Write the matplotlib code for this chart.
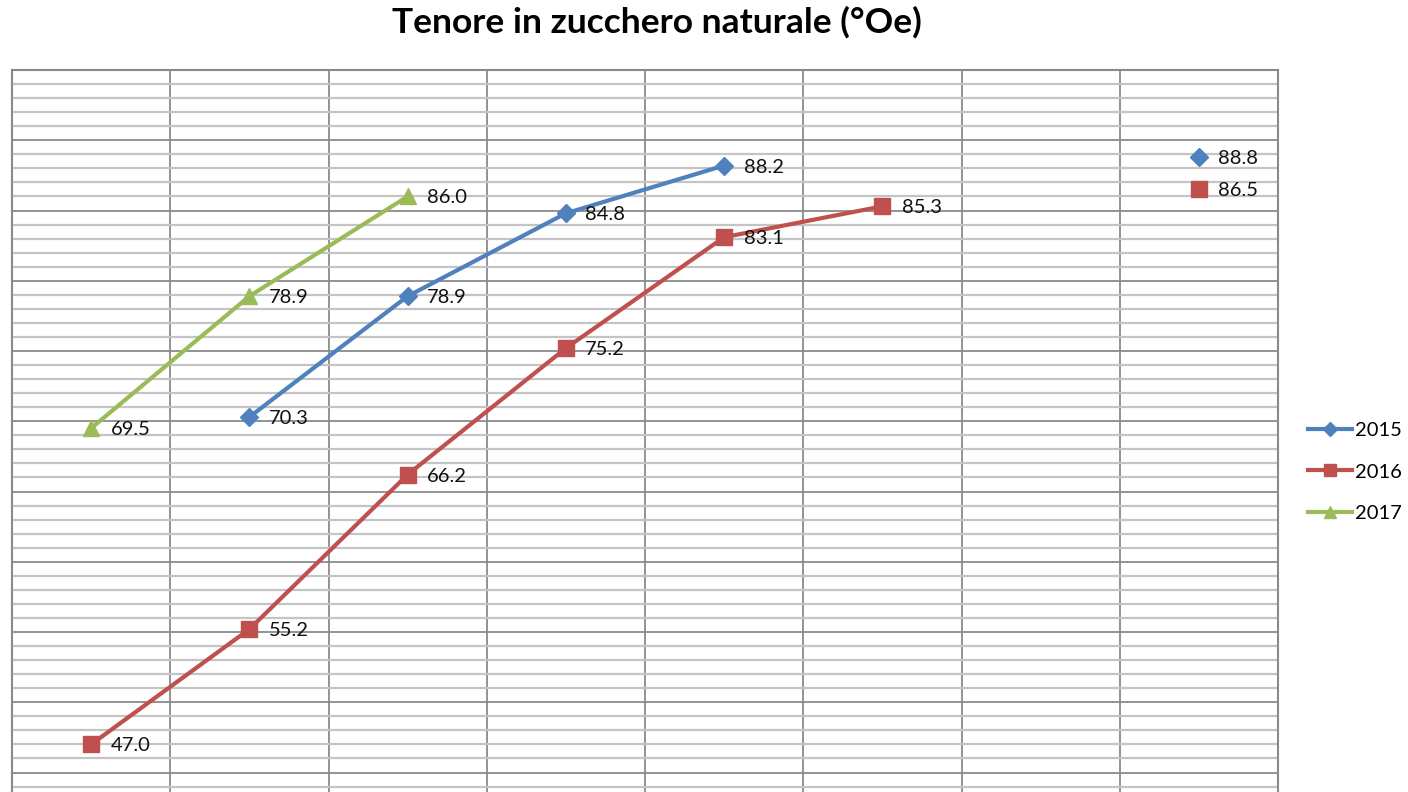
import numpy as np
import matplotlib
matplotlib.use("Agg")
import matplotlib.pyplot as plt
from matplotlib.ticker import MultipleLocator

categories = list(range(8))
nan = np.nan
s2015 = [nan, 70.3, 78.9, 84.8, 88.2, nan, nan, 88.8]
s2016 = [47.0, 55.2, 66.2, 75.2, 83.1, 85.3, nan, 86.5]
s2017 = [69.5, 78.9, 86.0, nan, nan, nan, nan, nan]
series_names = ["2015", "2016", "2017"]
title = "Tenore in zucchero naturale (°Oe)"

plt.rcParams['font.family'] = ['Lato', 'DejaVu Sans']

W, H = 1408, 792
fig = plt.figure(figsize=(W / 100, H / 100), dpi=100)
left, right, top = 12, 1278, 70
ymin, ymax = 40, 95
ppu = 14.05
bottom_px = top + (ymax - ymin) * ppu
ax = fig.add_axes([left / W, 1 - bottom_px / H, (right - left) / W, (bottom_px - top) / H])
ax.set_xlim(-0.5, 7.5)
ax.set_ylim(ymin, ymax)

# grid
ax.yaxis.set_major_locator(MultipleLocator(5))
ax.yaxis.set_minor_locator(MultipleLocator(1))
ax.xaxis.set_major_locator(MultipleLocator(1, offset=0.5))
ax.grid(which='minor', axis='y', color='#c4c4c4', linewidth=1.6)
ax.grid(which='major', axis='y', color='#8a8a8a', linewidth=1.3)
ax.grid(which='major', axis='x', color='#8a8a8a', linewidth=1.3)
ax.set_axisbelow(True)
ax.tick_params(which='both', length=0, labelbottom=False, labelleft=False)
for sp in ax.spines.values():
    sp.set_color('#8a8a8a')
    sp.set_linewidth(1.5)

styles = [
    dict(color='#4F81BD', marker='D', ms=9),
    dict(color='#C0504D', marker='s', ms=11),
    dict(color='#9BBB59', marker='^', ms=11),
]
handles = []
for name, vals, st in zip(series_names, [s2015, s2016, s2017], styles):
    h, = ax.plot(categories, vals, color=st['color'], marker=st['marker'],
                 markersize=st['ms'], linewidth=3, label=name, zorder=3)
    handles.append(h)
    for x, v in zip(categories, vals):
        if not np.isnan(v):
            ax.annotate(f"{v:.1f}", (x, v), xytext=(14, 0), textcoords='offset points',
                        ha='left', va='center_baseline', fontsize=14.5, color='#111111', zorder=4)

fig.text(657 / W, 1 - 22 / H, title, ha='center', va='center', fontsize=25.5,
         fontweight='bold', color='black')

leg = fig.legend(handles=handles, labels=series_names, loc='center left',
                 bbox_to_anchor=(1308 / W, 1 - 472 / H), frameon=False,
                 fontsize=14.5, handlelength=2.2, handletextpad=0.15,
                 labelspacing=1.2, markerscale=0.8, borderaxespad=0, borderpad=0)

fig.savefig("out.png", dpi=100)
